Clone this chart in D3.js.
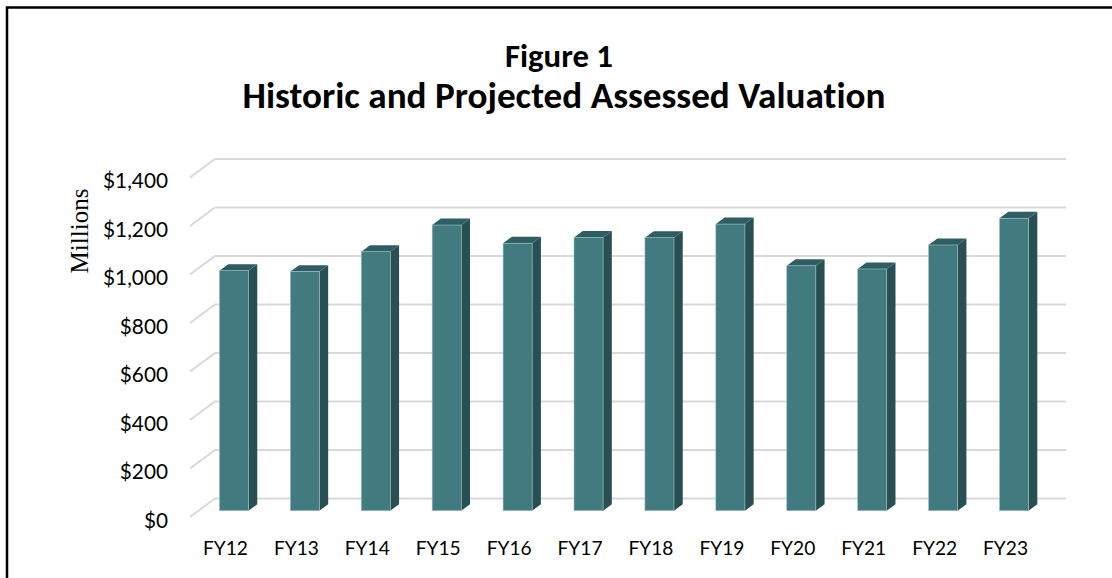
<!DOCTYPE html>
<html>
<head>
<meta charset="utf-8">
<script src="https://cdn.jsdelivr.net/npm/d3@7"></script>
<style>
  html, body { margin: 0; padding: 0; background: #fff; }
  svg { display: block; }
  text { font-variant-ligatures: none; font-feature-settings: "liga" 0; }
</style>
</head>
<body>
<svg id="chart" width="1112" height="578"></svg>
<script>
// Assessed valuation by fiscal year, in millions of dollars
const categories = ["FY12", "FY13", "FY14", "FY15", "FY16", "FY17", "FY18", "FY19", "FY20", "FY21", "FY22", "FY23"];
const values = [990, 986, 1068, 1178, 1103, 1127, 1126, 1182, 1010, 997, 1096, 1206];
const yTicks = [0, 200, 400, 600, 800, 1000, 1200, 1400];
const titleLines = ["Figure 1", "Historic and Projected Assessed Valuation"];
const yAxisTitle = "Millions";

const svg = d3.select("#chart");

// Chart frame (runs off the right and bottom edges)
svg.append("rect")
  .attr("x", 7).attr("y", 7.5)
  .attr("width", 1300).attr("height", 800)
  .attr("fill", "#fff").attr("stroke", "#000").attr("stroke-width", 2.5);

// Oblique 3-D floor: front edge and depth offset
const plotLeft = 190, plotRight = 1041;
const depthX = 25, depthY = -18.5;
const barFront = 0.34, barBack = 0.69; // bar depth position within the floor

const y = d3.scaleLinear().domain([0, 1400]).range([517, 517 - 7 * 48.5]);
const x = d3.scaleBand().domain(categories).range([plotLeft, plotRight])
  .paddingInner(0.59).paddingOuter(0.295);

const sansFont = "Lato, 'Open Sans', sans-serif";

// Fit a text element to a target width by adjusting its font size
function fitWidth(sel, target) {
  const node = sel.node();
  const base = parseFloat(sel.attr("font-size"));
  const w = node.getComputedTextLength();
  if (w > 0) sel.attr("font-size", (base * target / w).toFixed(2));
  return sel;
}

// Title
const title = svg.append("g").attr("font-family", "Calibri, Carlito, " + sansFont)
  .attr("font-weight", "bold").attr("fill", "#000").attr("text-anchor", "middle");
fitWidth(title.append("text").attr("x", 559).attr("y", 67).attr("font-size", 30).text(titleLines[0]), 108);
fitWidth(title.append("text").attr("x", 564).attr("y", 108).attr("font-size", 30).text(titleLines[1]), 643);

// Gridlines: diagonal side wall segment plus back wall line
svg.append("g").selectAll("path")
  .data(yTicks)
  .join("path")
  .attr("d", v => {
    const yf = y(v);
    return `M${plotLeft},${yf} L${plotLeft + depthX},${yf + depthY} L${plotRight + depthX},${yf + depthY}`;
  })
  .attr("fill", "none")
  .attr("stroke", "#d9d9d9")
  .attr("stroke-width", 2);

// Y tick labels
const yLabels = svg.append("g").attr("font-family", sansFont).attr("fill", "#000")
  .attr("text-anchor", "end")
  .selectAll("text")
  .data(yTicks)
  .join("text")
  .attr("x", 168)
  .attr("y", v => y(v) + 2)
  .attr("dominant-baseline", "central")
  .attr("font-size", 19)
  .text(v => "$" + d3.format(",")(v));
// size them so "$1,400" spans about 65px
{
  const w = yLabels.filter(v => v === 1400).node().getComputedTextLength();
  yLabels.attr("font-size", (19 * 65 / w).toFixed(2));
}

// Y axis title
svg.append("text")
  .attr("transform", "translate(88,231) rotate(-90)")
  .attr("text-anchor", "middle")
  .attr("font-family", "'Liberation Serif', 'Times New Roman', serif")
  .attr("font-size", 25)
  .attr("fill", "#000")
  .text(yAxisTitle);

// Bars (front, top, side faces)
const bw = x.bandwidth();
const bars = svg.append("g").selectAll("g")
  .data(categories.map((c, i) => ({ c, v: values[i] })))
  .join("g");

function pt(px, py, t) { return [px + t * depthX, py + t * depthY]; }

bars.append("path") // side face
  .attr("d", d => {
    const xr = x(d.c) + bw, yt = y(d.v), yb = y(0);
    const a = pt(xr, yt, barFront), b = pt(xr, yt, barBack), c = pt(xr, yb, barBack), e = pt(xr, yb, barFront);
    return `M${a}L${b}L${c}L${e}Z`;
  })
  .attr("fill", "#284f53");

bars.append("path") // top face
  .attr("d", d => {
    const xl = x(d.c), xr = x(d.c) + bw, yt = y(d.v);
    const a = pt(xl, yt, barFront), b = pt(xr, yt, barFront), c = pt(xr, yt, barBack), e = pt(xl, yt, barBack);
    return `M${a}L${b}L${c}L${e}Z`;
  })
  .attr("fill", "#2f5e62");

bars.append("rect") // front face
  .attr("x", d => x(d.c) + barFront * depthX)
  .attr("y", d => y(d.v) + barFront * depthY)
  .attr("width", bw)
  .attr("height", d => y(0) - y(d.v))
  .attr("fill", "#417b80")
  .attr("stroke", "#9fbfc1")
  .attr("stroke-width", 0.6);

// Category labels
const xLabels = svg.append("g").attr("font-family", sansFont).attr("fill", "#000")
  .attr("text-anchor", "middle")
  .selectAll("text")
  .data(categories)
  .join("text")
  .attr("x", c => x(c) + bw / 2)
  .attr("y", 555)
  .attr("font-size", 19)
  .text(c => c);
{
  const w = xLabels.filter(c => c === "FY12").node().getComputedTextLength();
  xLabels.attr("font-size", (19 * 45 / w).toFixed(2));
}
</script>
</body>
</html>
